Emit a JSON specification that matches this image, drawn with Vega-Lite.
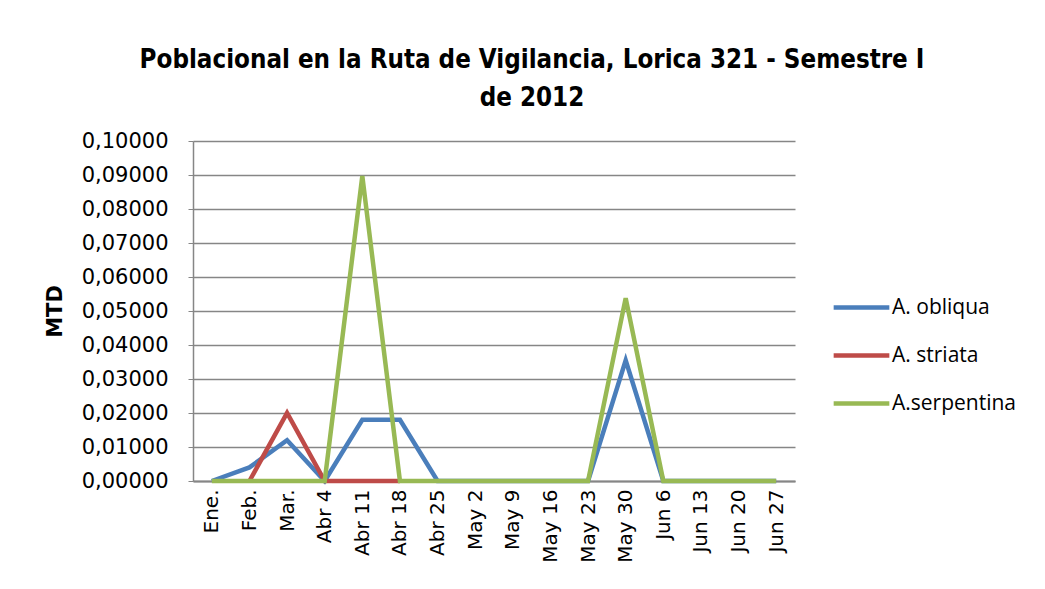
{
  "$schema": "https://vega.github.io/schema/vega-lite/v6.json",
  "width": 602,
  "height": 340,
  "autosize": {"type": "none"},
  "padding": {"left": 193, "top": 141, "right": 250, "bottom": 108},
  "background": "white",
  "title": {
    "text": ["Poblacional  en la Ruta de Vigilancia, Lorica 321 - Semestre I", "de 2012"],
    "font": "DejaVu Sans Condensed, Liberation Sans",
    "fontSize": 25.7,
    "fontWeight": "bold",
    "color": "#000000",
    "anchor": "middle",
    "dx": 38,
    "offset": 18,
    "lineHeight": 38
  },
  "data": {
    "values": [
      {"week": "Ene.", "species": "A. obliqua", "value": 0},
      {"week": "Feb.", "species": "A. obliqua", "value": 0.004},
      {"week": "Mar.", "species": "A. obliqua", "value": 0.012},
      {"week": "Abr 4", "species": "A. obliqua", "value": 0},
      {"week": "Abr 11", "species": "A. obliqua", "value": 0.018},
      {"week": "Abr 18", "species": "A. obliqua", "value": 0.018},
      {"week": "Abr 25", "species": "A. obliqua", "value": 0},
      {"week": "May 2", "species": "A. obliqua", "value": 0},
      {"week": "May 9", "species": "A. obliqua", "value": 0},
      {"week": "May 16", "species": "A. obliqua", "value": 0},
      {"week": "May 23", "species": "A. obliqua", "value": 0},
      {"week": "May 30", "species": "A. obliqua", "value": 0.0355},
      {"week": "Jun 6", "species": "A. obliqua", "value": 0},
      {"week": "Jun 13", "species": "A. obliqua", "value": 0},
      {"week": "Jun 20", "species": "A. obliqua", "value": 0},
      {"week": "Jun 27", "species": "A. obliqua", "value": 0},
      {"week": "Feb.", "species": "A. striata", "value": 0},
      {"week": "Mar.", "species": "A. striata", "value": 0.02},
      {"week": "Abr 4", "species": "A. striata", "value": 0},
      {"week": "Abr 11", "species": "A. striata", "value": 0},
      {"week": "Abr 18", "species": "A. striata", "value": 0},
      {"week": "Ene.", "species": "A.serpentina", "value": 0},
      {"week": "Feb.", "species": "A.serpentina", "value": 0},
      {"week": "Mar.", "species": "A.serpentina", "value": 0},
      {"week": "Abr 4", "species": "A.serpentina", "value": 0},
      {"week": "Abr 11", "species": "A.serpentina", "value": 0.0897},
      {"week": "Abr 18", "species": "A.serpentina", "value": 0},
      {"week": "Abr 25", "species": "A.serpentina", "value": 0},
      {"week": "May 2", "species": "A.serpentina", "value": 0},
      {"week": "May 9", "species": "A.serpentina", "value": 0},
      {"week": "May 16", "species": "A.serpentina", "value": 0},
      {"week": "May 23", "species": "A.serpentina", "value": 0},
      {"week": "May 30", "species": "A.serpentina", "value": 0.0538},
      {"week": "Jun 6", "species": "A.serpentina", "value": 0},
      {"week": "Jun 13", "species": "A.serpentina", "value": 0},
      {"week": "Jun 20", "species": "A.serpentina", "value": 0},
      {"week": "Jun 27", "species": "A.serpentina", "value": 0}
    ]
  },
  "mark": {"type": "line", "strokeWidth": 4.5, "strokeJoin": "miter", "strokeCap": "butt"},
  "encoding": {
    "x": {
      "field": "week",
      "type": "nominal",
      "sort": ["Ene.", "Feb.", "Mar.", "Abr 4", "Abr 11", "Abr 18", "Abr 25", "May 2", "May 9", "May 16", "May 23", "May 30", "Jun 6", "Jun 13", "Jun 20", "Jun 27"],
      "scale": {"type": "point", "padding": 0.5},
      "axis": {
        "title": null,
        "labelAngle": 270,
        "labelFont": "DejaVu Sans",
        "labelFontSize": 20,
        "labelColor": "#000000",
        "labelPadding": 8,
        "ticks": false,
        "domainColor": "#868686",
        "domainWidth": 2,
        "grid": false
      }
    },
    "y": {
      "field": "value",
      "type": "quantitative",
      "scale": {"domain": [0, 0.1], "nice": false},
      "axis": {
        "title": "MTD",
        "titleFont": "DejaVu Sans",
        "titleFontSize": 21,
        "titleFontWeight": "bold",
        "titleColor": "#000000",
        "titlePadding": 16,
        "values": [0, 0.01, 0.02, 0.03, 0.04, 0.05, 0.06, 0.07, 0.08, 0.09, 0.1],
        "labelExpr": "replace(format(datum.value, '.5f'), '.', ',')",
        "labelFont": "DejaVu Sans",
        "labelFontSize": 21,
        "labelColor": "#000000",
        "labelPadding": 20,
        "tickSize": 5,
        "tickColor": "#868686",
        "domainColor": "#868686",
        "domainWidth": 1.5,
        "gridColor": "#868686",
        "gridWidth": 1.5,
        "gridOpacity": 1
      }
    },
    "color": {
      "field": "species",
      "type": "nominal",
      "scale": {"domain": ["A. obliqua", "A. striata", "A.serpentina"], "range": ["#4A7EBB", "#BE4B48", "#98B954"]},
      "legend": {
        "title": null,
        "orient": "none",
        "legendX": 638,
        "legendY": 136,
        "symbolType": "stroke",
        "symbolSize": 3100,
        "symbolStrokeWidth": 4.5,
        "labelFont": "Open Sans",
        "labelFontSize": 21,
        "labelColor": "#000000",
        "labelOffset": 0,
        "rowPadding": 7,
        "labelLimit": 300
      }
    }
  },
  "config": {
    "view": {"stroke": null}
  }
}
